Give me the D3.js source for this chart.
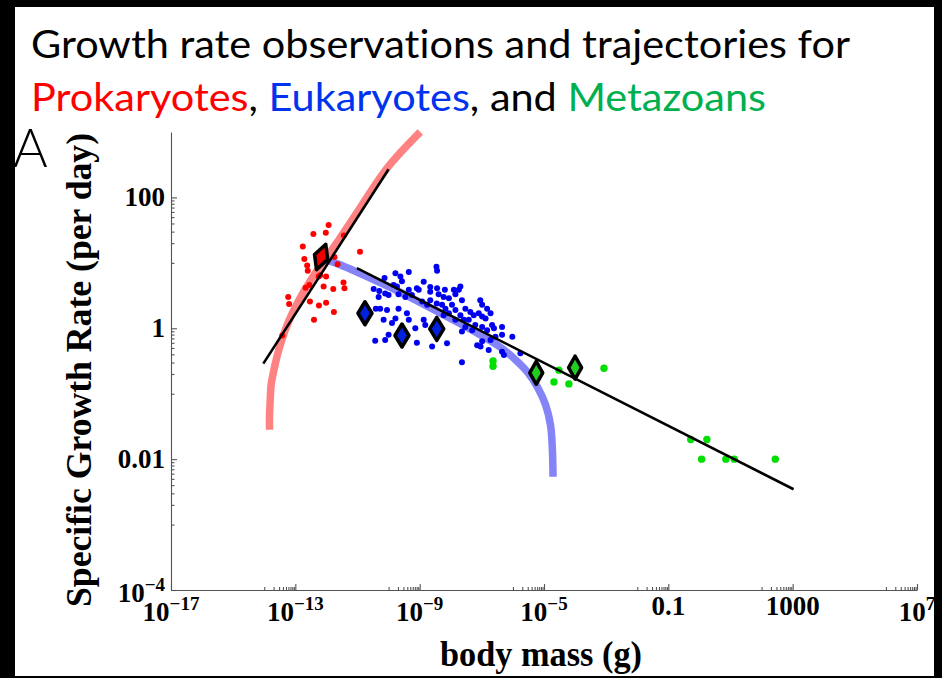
<!DOCTYPE html>
<html>
<head>
<meta charset="utf-8">
<script src="https://cdn.jsdelivr.net/npm/d3@7"></script>
<style>
  html, body { margin: 0; padding: 0; background: #000; }
  svg { display: block; }
  text { font-variant-ligatures: none; }
</style>
</head>
<body>
<svg id="chart" width="942" height="678"></svg>
<script>
// Every pair is [log10 body mass (g), log10 specific growth rate (per day)].
const prokaryotes = [
  [-11.93, 1.58], [-12.42, 1.44], [-12.02, 1.46], [-11.44, 1.42], [-12.76, 1.25],
  [-10.92, 1.17], [-12.71, 1.06], [-12.62, 0.96], [-12.60, 0.88], [-11.74, 1.09],
  [-11.64, 0.98], [-12.67, 0.62], [-12.55, 0.66], [-12.25, 0.79], [-12.20, 0.81],
  [-12.01, 0.79], [-12.09, 0.64], [-11.78, 0.60], [-11.45, 0.70], [-11.42, 0.61],
  [-13.23, 0.48], [-13.20, 0.37], [-12.53, 0.41], [-12.24, 0.35], [-12.01, 0.39],
  [-11.76, 0.25], [-12.40, 0.13], [-13.42, -0.11]
];

const eukaryotes = [
  [-8.46, 0.94], [-8.44, 0.88], [-9.35, 0.86], [-9.78, 0.84], [-9.62, 0.79],
  [-10.13, 0.77], [-9.57, 0.72], [-8.87, 0.71], [-9.84, 0.66], [-9.73, 0.64],
  [-9.09, 0.61], [-9.03, 0.59], [-8.66, 0.63], [-8.44, 0.61], [-8.19, 0.59],
  [-7.90, 0.59], [-7.69, 0.64], [-7.74, 0.59], [-10.48, 0.60], [-10.30, 0.57],
  [-10.11, 0.53], [-10.00, 0.51], [-10.32, 0.48], [-9.35, 0.59], [-9.68, 0.52],
  [-9.46, 0.48], [-9.25, 0.51], [-8.66, 0.56], [-8.39, 0.52], [-8.23, 0.48],
  [-8.06, 0.46], [-7.85, 0.52], [-8.66, 0.43], [-8.45, 0.38], [-8.92, 0.41],
  [-8.76, 0.36], [-8.28, 0.36], [-8.17, 0.30], [-7.96, 0.36], [-7.64, 0.43],
  [-7.53, 0.30], [-7.37, 0.25], [-7.85, 0.28], [-8.06, 0.23], [-8.23, 0.20],
  [-7.05, 0.43], [-6.99, 0.36], [-6.83, 0.30], [-6.72, 0.23], [-7.10, 0.23],
  [-7.26, 0.20], [-7.69, 0.20], [-7.58, 0.13], [-7.42, 0.13], [-7.85, 0.13],
  [-6.99, 0.18], [-6.88, 0.15], [-6.67, 0.05], [-6.61, 0.00], [-6.83, -0.03],
  [-6.99, 0.02], [-7.21, 0.05], [-7.31, -0.03], [-7.53, 0.02], [-7.64, -0.05],
  [-6.35, 0.02], [-6.35, -0.10], [-6.02, -0.13], [-6.56, -0.13], [-6.72, -0.18],
  [-6.99, -0.20], [-7.15, -0.26], [-7.04, -0.28], [-6.78, -0.33], [-6.35, -0.36],
  [-5.76, -0.38], [-6.29, -0.41], [-10.41, 0.30], [-10.27, 0.30], [-10.05, 0.28],
  [-9.68, 0.30], [-9.41, 0.23], [-9.35, 0.13], [-9.78, 0.15], [-10.16, 0.13],
  [-9.89, 0.08], [-8.87, 0.13], [-8.82, 0.05], [-10.00, -0.10], [-10.11, -0.18],
  [-10.43, -0.19], [-9.09, -0.22], [-8.60, -0.28], [-8.12, -0.23], [-7.64, -0.52],
  [-9.62, -0.08], [-9.14, 0.00]
];

const metazoans = [
  [-6.64, -0.50], [-6.64, -0.58], [-4.68, -0.82], [-4.52, -0.64], [-4.20, -0.85],
  [-3.07, -0.61], [-0.28, -1.70], [0.24, -1.70], [0.07, -2.00], [0.85, -2.00],
  [1.12, -2.00], [2.44, -2.00]
];

// Group means, drawn as outlined diamonds
const prokaryoteMeans = [[-12.17, 1.09]];
const eukaryoteMeans = [[-10.76, 0.23], [-9.57, -0.11], [-8.45, -0.01]];
const metazoanMeans = [[-5.25, -0.68], [-4.00, -0.60]];

// Model trajectories
const prokaryoteTrajectory = [
  [-13.83, -1.55], [-13.83, -1.33], [-13.81, -1.12], [-13.78, -0.87], [-13.70, -0.66],
  [-13.60, -0.45], [-13.49, -0.26], [-13.22, 0.10], [-12.79, 0.51], [-12.25, 0.92],
  [-11.72, 1.27], [-11.07, 1.73], [-10.01, 2.47], [-8.98, 3.00]
];
const eukaryoteTrajectory = [
  [-12.14, 1.07], [-11.56, 0.97], [-11.07, 0.87], [-9.62, 0.55], [-8.40, 0.25],
  [-7.27, -0.04], [-6.40, -0.29], [-5.92, -0.48], [-5.53, -0.67], [-5.21, -0.90],
  [-4.95, -1.17], [-4.79, -1.48], [-4.73, -1.86], [-4.71, -2.27]
];

// Power-law fits
const prokaryoteFit = [[-14.03, -0.54], [-10.00, 2.43]];
const eukaryoteMetazoanFit = [[-11.02, 0.92], [3.03, -2.46]];

// Axis ticks
const xTickValues = [1e-17, 1e-13, 1e-9, 1e-5, 1e-1, 1e3, 1e7];
const xTickLabels = ["10^-17", "10^-13", "10^-9", "10^-5", "0.1", "1000", "10^7"];
const yTickValues = [1e-4, 1e-2, 1, 1e2];
const yTickLabels = ["10^-4", "0.01", "1", "100"];

const svg = d3.select("#chart");

// white page inside the dark frame
svg.append("rect")
  .attr("x", 15).attr("y", 7).attr("width", 919).attr("height", 669)
  .attr("fill", "#fff");

const x = d3.scaleLog().domain([1e-17, 1e7]).range([171, 917]);
const y = d3.scaleLog().domain([1e-4, 1e3]).range([590, 132]);
const px = d => x(Math.pow(10, d[0]));
const py = d => y(Math.pow(10, d[1]));

const serif = "'Liberation Serif', 'Times New Roman', serif";
const sans = "Lato, 'Open Sans', sans-serif";
const axisColor = "#555";

// ---- heading ----
svg.append("text")
  .attr("x", 31).attr("y", 58)
  .attr("font-family", sans).attr("font-size", 38).attr("fill", "#000")
  .attr("textLength", 819).attr("lengthAdjust", "spacingAndGlyphs")
  .text("Growth rate observations and trajectories for");

const line2 = svg.append("text")
  .attr("x", 31).attr("y", 111)
  .attr("font-family", sans).attr("font-size", 38)
  .attr("textLength", 735).attr("lengthAdjust", "spacingAndGlyphs");
[["Prokaryotes", "#ff0000"], [", ", "#000"], ["Eukaryotes", "#0033ee"],
 [", and ", "#000"], ["Metazoans", "#00b050"]].forEach(([t, c]) => {
  line2.append("tspan").attr("fill", c).text(t);
});

svg.append("text")
  .attr("x", 13).attr("y", 167)
  .attr("font-family", sans).attr("font-weight", 300).attr("font-size", 53)
  .text("A");

// ---- axes ----
const minorOf = vals => vals.slice(1).flatMap(v => d3.range(1, 10).map(m => m * v / 10));

function styleAxis(g) {
  g.selectAll("path, line").attr("stroke", axisColor).attr("stroke-width", 1.1);
}

const gx = svg.append("g").attr("transform", "translate(0,590)")
  .call(d3.axisBottom(x).tickValues(xTickValues).tickSize(-6).tickSizeOuter(0).tickFormat(""));
const gxMinor = svg.append("g").attr("transform", "translate(0,590)")
  .call(d3.axisBottom(x).tickValues(minorOf(xTickValues)).tickSize(-3).tickSizeOuter(0).tickFormat(""));
gxMinor.select(".domain").remove();

const gy = svg.append("g").attr("transform", "translate(171,0)")
  .call(d3.axisLeft(y).tickValues(yTickValues).tickSize(-6).tickSizeOuter(0).tickFormat(""));
const gyMinor = svg.append("g").attr("transform", "translate(171,0)")
  .call(d3.axisLeft(y).tickValues(minorOf(yTickValues)).tickSize(-3.5).tickSizeOuter(0).tickFormat(""));
gyMinor.select(".domain").remove();
[gx, gxMinor, gy, gyMinor].forEach(styleAxis);

// tick labels with superscript exponents
function writeLabel(textSel, str) {
  const parts = str.split("^");
  textSel.append("tspan").text(parts[0]);
  if (parts.length > 1) {
    textSel.append("tspan")
      .attr("dy", -11).attr("font-size", 19)
      .text(parts[1].replace("-", "\u2212"));
  }
}

xTickValues.forEach((v, i) => {
  const lab = xTickLabels[i];
  const t = svg.append("text")
    .attr("x", x(v)).attr("y", lab.includes("^") ? 621 : 615)
    .attr("text-anchor", "middle")
    .attr("font-family", serif).attr("font-weight", "bold").attr("font-size", 27);
  writeLabel(t, lab);
});

yTickValues.forEach((v, i) => {
  const lab = yTickLabels[i];
  const t = svg.append("text")
    .attr("x", 165).attr("y", y(v) + (lab.includes("^") ? 12 : 9))
    .attr("text-anchor", "end")
    .attr("font-family", serif).attr("font-weight", "bold").attr("font-size", 27);
  writeLabel(t, lab);
});

// axis titles
svg.append("text")
  .attr("x", 541).attr("y", 666)
  .attr("text-anchor", "middle")
  .attr("font-family", serif).attr("font-weight", "bold").attr("font-size", 35)
  .attr("textLength", 202).attr("lengthAdjust", "spacingAndGlyphs")
  .text("body mass (g)");

svg.append("text")
  .attr("transform", "translate(91,370) rotate(-90)")
  .attr("text-anchor", "middle")
  .attr("font-family", serif).attr("font-weight", "bold").attr("font-size", 35)
  .attr("textLength", 474).attr("lengthAdjust", "spacingAndGlyphs")
  .text("Specific Growth Rate (per day)");

// ---- plot marks ----
const plot = svg.append("g");

const band = d3.line().x(px).y(py).curve(d3.curveCatmullRom.alpha(0.5));
plot.append("path").datum(prokaryoteTrajectory)
  .attr("d", band).attr("fill", "none")
  .attr("stroke", "#ff8282").attr("stroke-width", 7.5);
plot.append("path").datum(eukaryoteTrajectory)
  .attr("d", band).attr("fill", "none")
  .attr("stroke", "#8484f8").attr("stroke-width", 7.5);

function dots(data, color, r) {
  plot.append("g").selectAll("circle").data(data).join("circle")
    .attr("cx", px).attr("cy", py).attr("r", r).attr("fill", color);
}
dots(prokaryotes, "#ff0000", 3);
dots(eukaryotes, "#0000f0", 3);
dots(metazoans, "#00e000", 3.7);

const straight = d3.line().x(px).y(py);
[prokaryoteFit, eukaryoteMetazoanFit].forEach(f => {
  plot.append("path").datum(f)
    .attr("d", straight).attr("fill", "none")
    .attr("stroke", "#000").attr("stroke-width", 2.6);
});

function diamonds(data, color, hw, hh, tilt) {
  plot.append("g").selectAll("path").data(data).join("path")
    .attr("transform", d => `translate(${px(d)},${py(d)}) rotate(${tilt})`)
    .attr("d", `M0,${-hh}L${hw},0L0,${hh}L${-hw},0Z`)
    .attr("fill", color).attr("stroke", "#000")
    .attr("stroke-width", 3.5).attr("stroke-linejoin", "round");
}
diamonds(prokaryoteMeans, "#ee0000", 7, 13.5, 20);
diamonds(eukaryoteMeans, "#0022dd", 7, 11.5, 0);
diamonds(metazoanMeans, "#22cc22", 6.5, 11.5, 0);
</script>
</body>
</html>
